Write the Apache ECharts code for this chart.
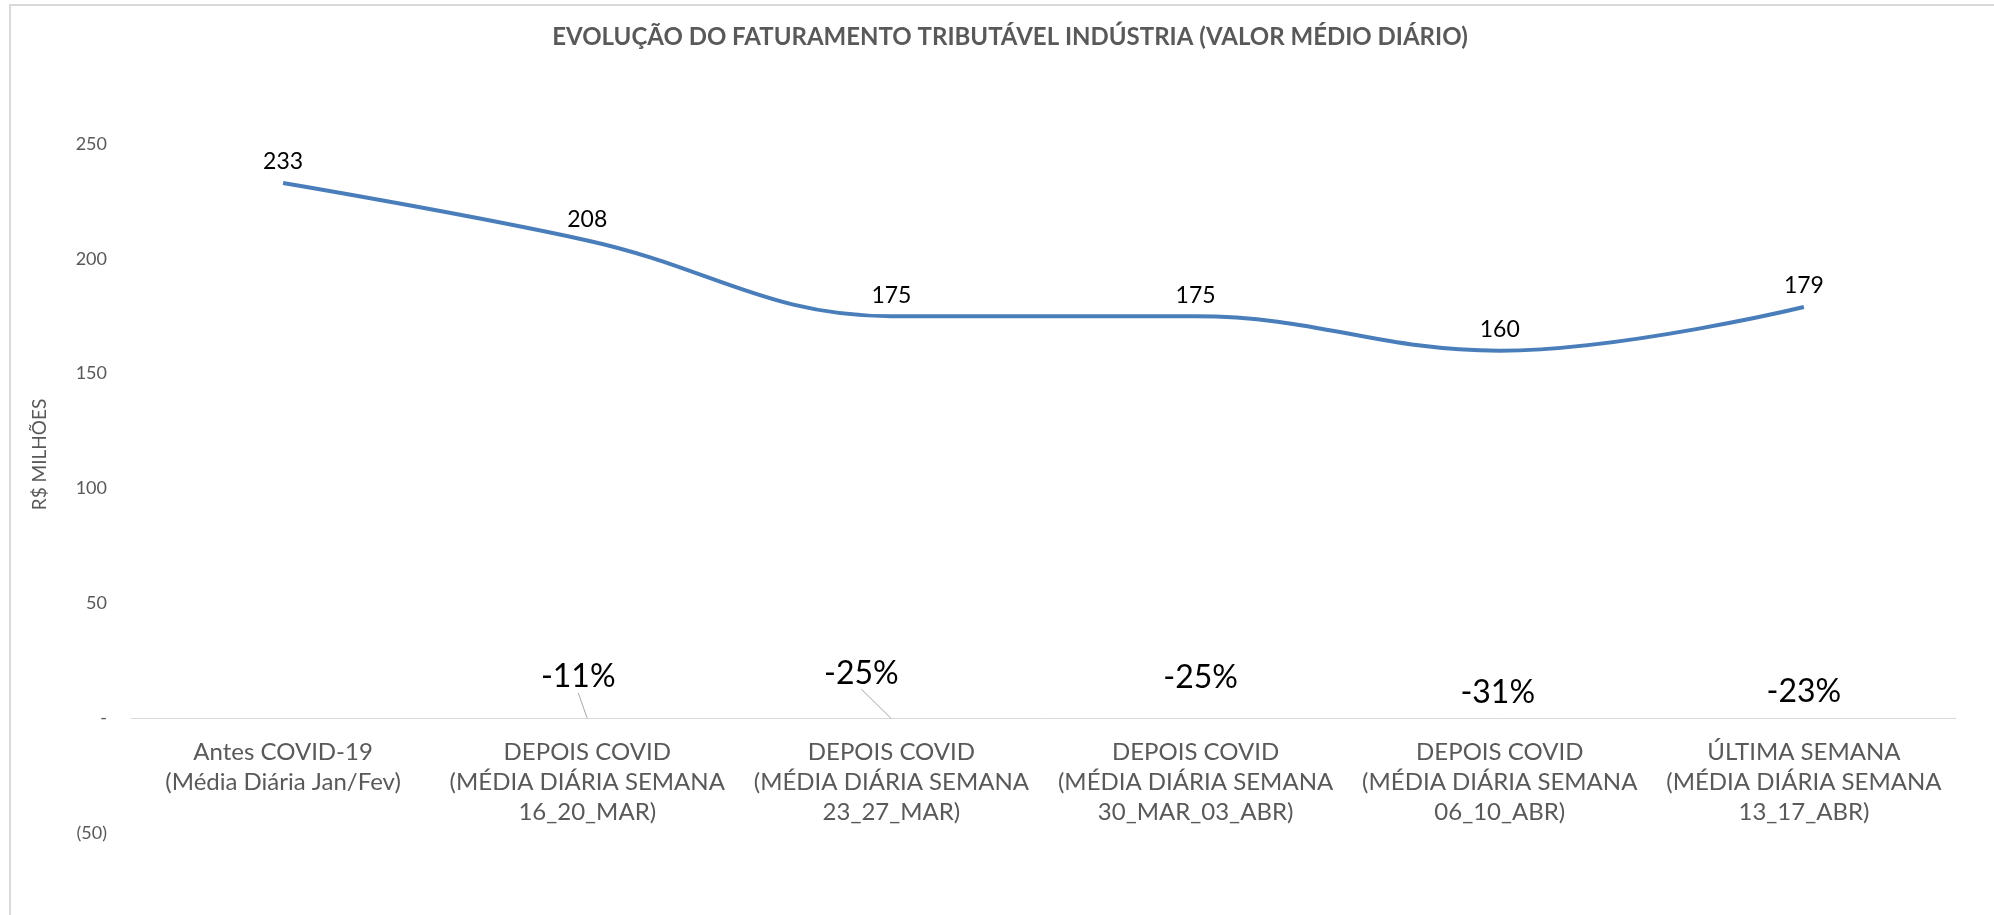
<!DOCTYPE html>
<html lang="pt">

<head>
    <meta charset="utf-8">
    <title>Faturamento Indústria</title>
    <script src="https://cdn.jsdelivr.net/npm/echarts@6/dist/echarts.min.js"></script>
    <style>
        html, body { margin: 0; padding: 0; background: #fff; }
        #main { width: 1994px; height: 915px; }
    </style>
</head>

<body>
    <div id="main"></div>
</body>

<script>
    // dados do gráfico
    var titulo = 'EVOLUÇÃO DO FATURAMENTO TRIBUTÁVEL INDÚSTRIA (VALOR MÉDIO DIÁRIO)';
    var categorias = [
        'Antes COVID-19\n(Média Diária Jan/Fev)',
        'DEPOIS COVID\n(MÉDIA DIÁRIA SEMANA\n16_20_MAR)',
        'DEPOIS COVID\n(MÉDIA DIÁRIA SEMANA\n23_27_MAR)',
        'DEPOIS COVID\n(MÉDIA DIÁRIA SEMANA\n30_MAR_03_ABR)',
        'DEPOIS COVID\n(MÉDIA DIÁRIA SEMANA\n06_10_ABR)',
        'ÚLTIMA SEMANA\n(MÉDIA DIÁRIA SEMANA\n13_17_ABR)'
    ];
    var faturamento = [233, 208, 175, 175, 160, 179];
    // variação em relação a antes da covid (fração)
    var variacao = [null, -0.11, -0.25, -0.25, -0.31, -0.23];

    var yMin = -50, yMax = 250, yStep = 50;

    // deslocamento dos rótulos de % (só estilo)
    var desloc = [[0, 0], [-9, -20], [-30, -24], [5, -20], [-2, -5], [0, -6]];
    var comLinha = [false, true, true, false, false, false];

    var fonte = 'Lato, "Open Sans", sans-serif';

    var myChart = echarts.init(document.getElementById('main'));

    var dadosVar = [];
    for (var i = 0; i < variacao.length; i++) {
        dadosVar.push({
            value: variacao[i],
            labelLine: { show: comLinha[i] }
        });
    }

    var option = {
        backgroundColor: '#fff',
        animation: false,
        graphic: [{
            type: 'rect',
            shape: { x: 10, y: 5, width: 2100, height: 1000 },
            style: { fill: 'none', stroke: '#d9d9d9', lineWidth: 2 },
            silent: true
        }, {
            // título (um pouco à direita do centro, como no original)
            type: 'text',
            x: 1010,
            y: 37,
            silent: true,
            style: {
                text: titulo,
                align: 'center',
                verticalAlign: 'middle',
                fontFamily: fonte,
                fontSize: 24,
                fontWeight: 'bold',
                fill: '#595959'
            }
        }],
        grid: {
            left: 131,
            right: 38,
            top: 144,
            bottom: 82,
            outerBoundsMode: 'none'
        },
        xAxis: {
            type: 'category',
            data: categorias,
            boundaryGap: true,
            // eixo na linha do zero (50 unidades acima da base)
            offset: -115,
            axisLine: { show: true, onZero: false, lineStyle: { color: '#d9d9d9', width: 1 } },
            axisTick: { show: false },
            axisLabel: {
                interval: 0,
                margin: 19,
                fontFamily: fonte,
                fontSize: 24,
                lineHeight: 30,
                color: '#595959'
            }
        },
        yAxis: {
            type: 'value',
            min: yMin,
            max: yMax,
            interval: yStep,
            name: 'R$ MILHÕES',
            nameLocation: 'middle',
            nameGap: 82,
            nameTextStyle: {
                fontFamily: fonte,
                fontSize: 19,
                color: '#595959',
                padding: [0, 0, 0, 68]
            },
            axisLine: { show: false },
            axisTick: { show: false },
            splitLine: { show: false },
            axisLabel: {
                margin: 24,
                fontFamily: fonte,
                fontSize: 18,
                color: '#595959',
                formatter: function (v) {
                    if (v == 0) return '-';
                    if (v < 0) return '(' + Math.abs(v) + ')';
                    return v;
                }
            }
        },
        series: [{
            name: 'Faturamento',
            type: 'line',
            data: faturamento,
            smooth: 0.4,
            symbol: 'circle',
            symbolSize: 1,
            showSymbol: true,
            itemStyle: { color: 'transparent' },
            lineStyle: { color: '#4a7ebb', width: 4 },
            label: {
                show: true,
                position: 'top',
                distance: 9,
                fontFamily: fonte,
                fontSize: 23,
                color: '#000'
            },
            z: 3
        }, {
            name: 'Variação',
            type: 'line',
            data: dadosVar,
            symbol: 'circle',
            symbolSize: 1,
            showSymbol: true,
            itemStyle: { color: 'transparent' },
            lineStyle: { width: 0, color: 'transparent' },
            label: {
                show: true,
                position: 'top',
                distance: 5,
                fontFamily: fonte,
                fontSize: 32,
                color: '#000',
                formatter: function (p) {
                    if (p.value == null) return '';
                    return Math.round(p.value * 100) + '%';
                }
            },
            labelLine: {
                show: true,
                lineStyle: { color: '#a6a6a6', width: 1 }
            },
            labelLayout: function (p) {
                var d = desloc[p.dataIndex];
                return { dx: d[0], dy: d[1] };
            }
        }]
    };
    myChart.setOption(option);
</script>

</html>
